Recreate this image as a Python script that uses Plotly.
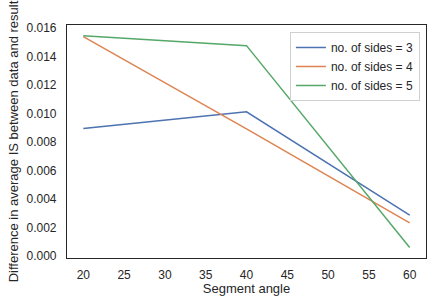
import plotly.graph_objects as go

angles = [20, 40, 60]
sides3 = [0.00895, 0.01012, 0.00285]
sides4 = [0.01540, 0.00892, 0.00232]
sides5 = [0.01547, 0.01477, 0.00058]
names = ["no. of sides = 3", "no. of sides = 4", "no. of sides = 5"]
colors = ["#4C72B0", "#DD8452", "#55A868"]

fig = go.Figure()
for ys, n, c in zip([sides3, sides4, sides5], names, colors):
    fig.add_trace(go.Scatter(x=angles, y=ys, mode="lines", name=n,
                             line=dict(color=c, width=1.5)))

fig.update_layout(
    width=427, height=301,
    margin=dict(l=67, r=1, t=25, b=43),
    paper_bgcolor="white", plot_bgcolor="white",
    font=dict(family="Liberation Sans, Arial, sans-serif", size=12, color="#262626"),
    legend=dict(x=0.983, y=0.97, xanchor="right", yanchor="top",
                bgcolor="rgba(255,255,255,0.8)", bordercolor="#d0d0d0", borderwidth=1,
                font=dict(size=12), itemwidth=30, tracegroupgap=0),
    xaxis=dict(range=[18, 62], tickvals=[20, 25, 30, 35, 40, 45, 50, 55, 60],
               showgrid=False, zeroline=False, showline=True, linecolor="#262626",
               linewidth=1.2, mirror=True, ticks="", tickfont=dict(size=12),
               ticklabelstandoff=5,
               title=dict(text="Segment angle", font=dict(size=13), standoff=3)),
    yaxis=dict(range=[-0.000155, 0.01622],
               tickvals=[0, 0.002, 0.004, 0.006, 0.008, 0.010, 0.012, 0.014, 0.016],
               tickformat=".3f",
               showgrid=False, zeroline=False, showline=True, linecolor="#262626",
               linewidth=1.2, mirror=True, ticks="", tickfont=dict(size=12),
               ticklabelstandoff=7,
               title=dict(text="Difference in average IS between data and result",
                          font=dict(size=13), standoff=4)),
)

fig.write_html("out.html", config={"displayModeBar": False},
               post_script="document.body.style.margin='0px';document.body.style.overflow='hidden';")
